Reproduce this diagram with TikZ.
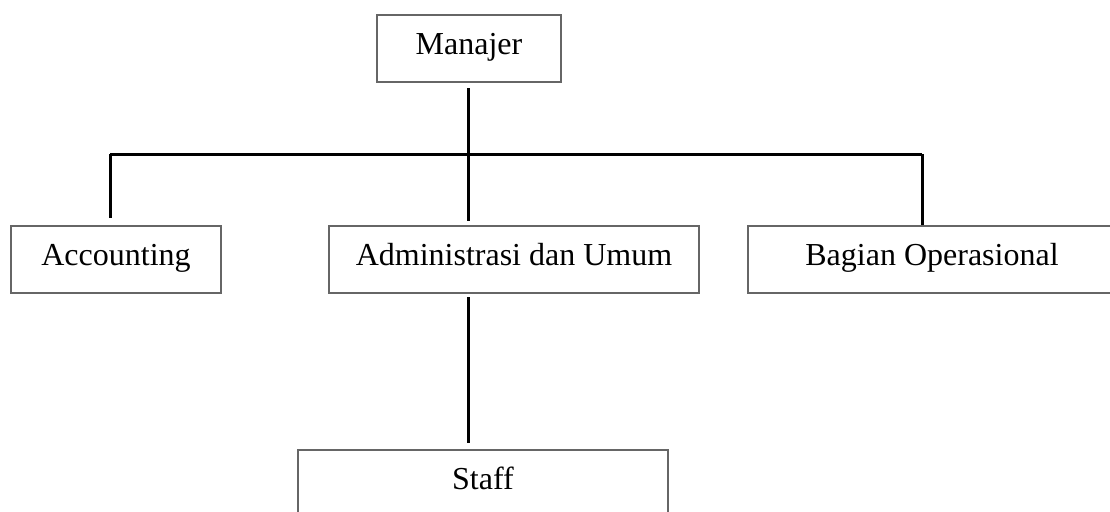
\documentclass[tikz,border=0pt]{standalone}
\usepackage{fontspec}
\setmainfont{Liberation Serif}
\usepackage{tikz}
\tikzstyle{unit}=[draw=black!60,line width=0.7pt,fill=white,inner sep=0pt,text height=10pt,text depth=4pt,font=\fontsize{16}{19}\selectfont]
\tikzstyle{link}=[line width=1.5pt,draw=black]

\begin{document}
\begin{tikzpicture}[x=0.5pt,y=-0.5pt]
          \useasboundingbox (0,0) rectangle (1110,511);
          \coordinate (M) at (469,48.5);
          \coordinate (A) at (116,259.5);
          \coordinate (D) at (514,259.5);
          \coordinate (O) at (932,259.5);
          \coordinate (S) at (483,483.5);

          \draw (M) node[unit,minimum width=92pt,minimum height=33.5pt](mgr){Manajer};
          \draw (A) node[unit,minimum width=105pt,minimum height=33.5pt](acc){Accounting};
          \draw (D) node[unit,minimum width=185pt,minimum height=33.5pt](adm){Administrasi dan Umum};
          \draw (O) node[unit,minimum width=184pt,minimum height=33.5pt](ops){Bagian Operasional};
          \draw (S) node[unit,minimum width=185pt,minimum height=33.5pt](stf){Staff};

          \coordinate (busL) at (110,154);
          \coordinate (busR) at (922,154);
          \coordinate (accTop) at (110,218);
          \coordinate (admTop) at (468,221);
          \coordinate (mgrBot) at (468,88);
          \coordinate (admBot) at (468,297);
          \coordinate (stfTop) at (468,443);

          \draw[link] (busL)--(busR);
          \draw[link] (mgrBot)--(admTop);
          \draw[link] (busL)--(accTop);
          \draw[link] (busR)--(busR |- ops.north);
          \draw[link] (admBot)--(stfTop);
        \end{tikzpicture}
\end{document}
